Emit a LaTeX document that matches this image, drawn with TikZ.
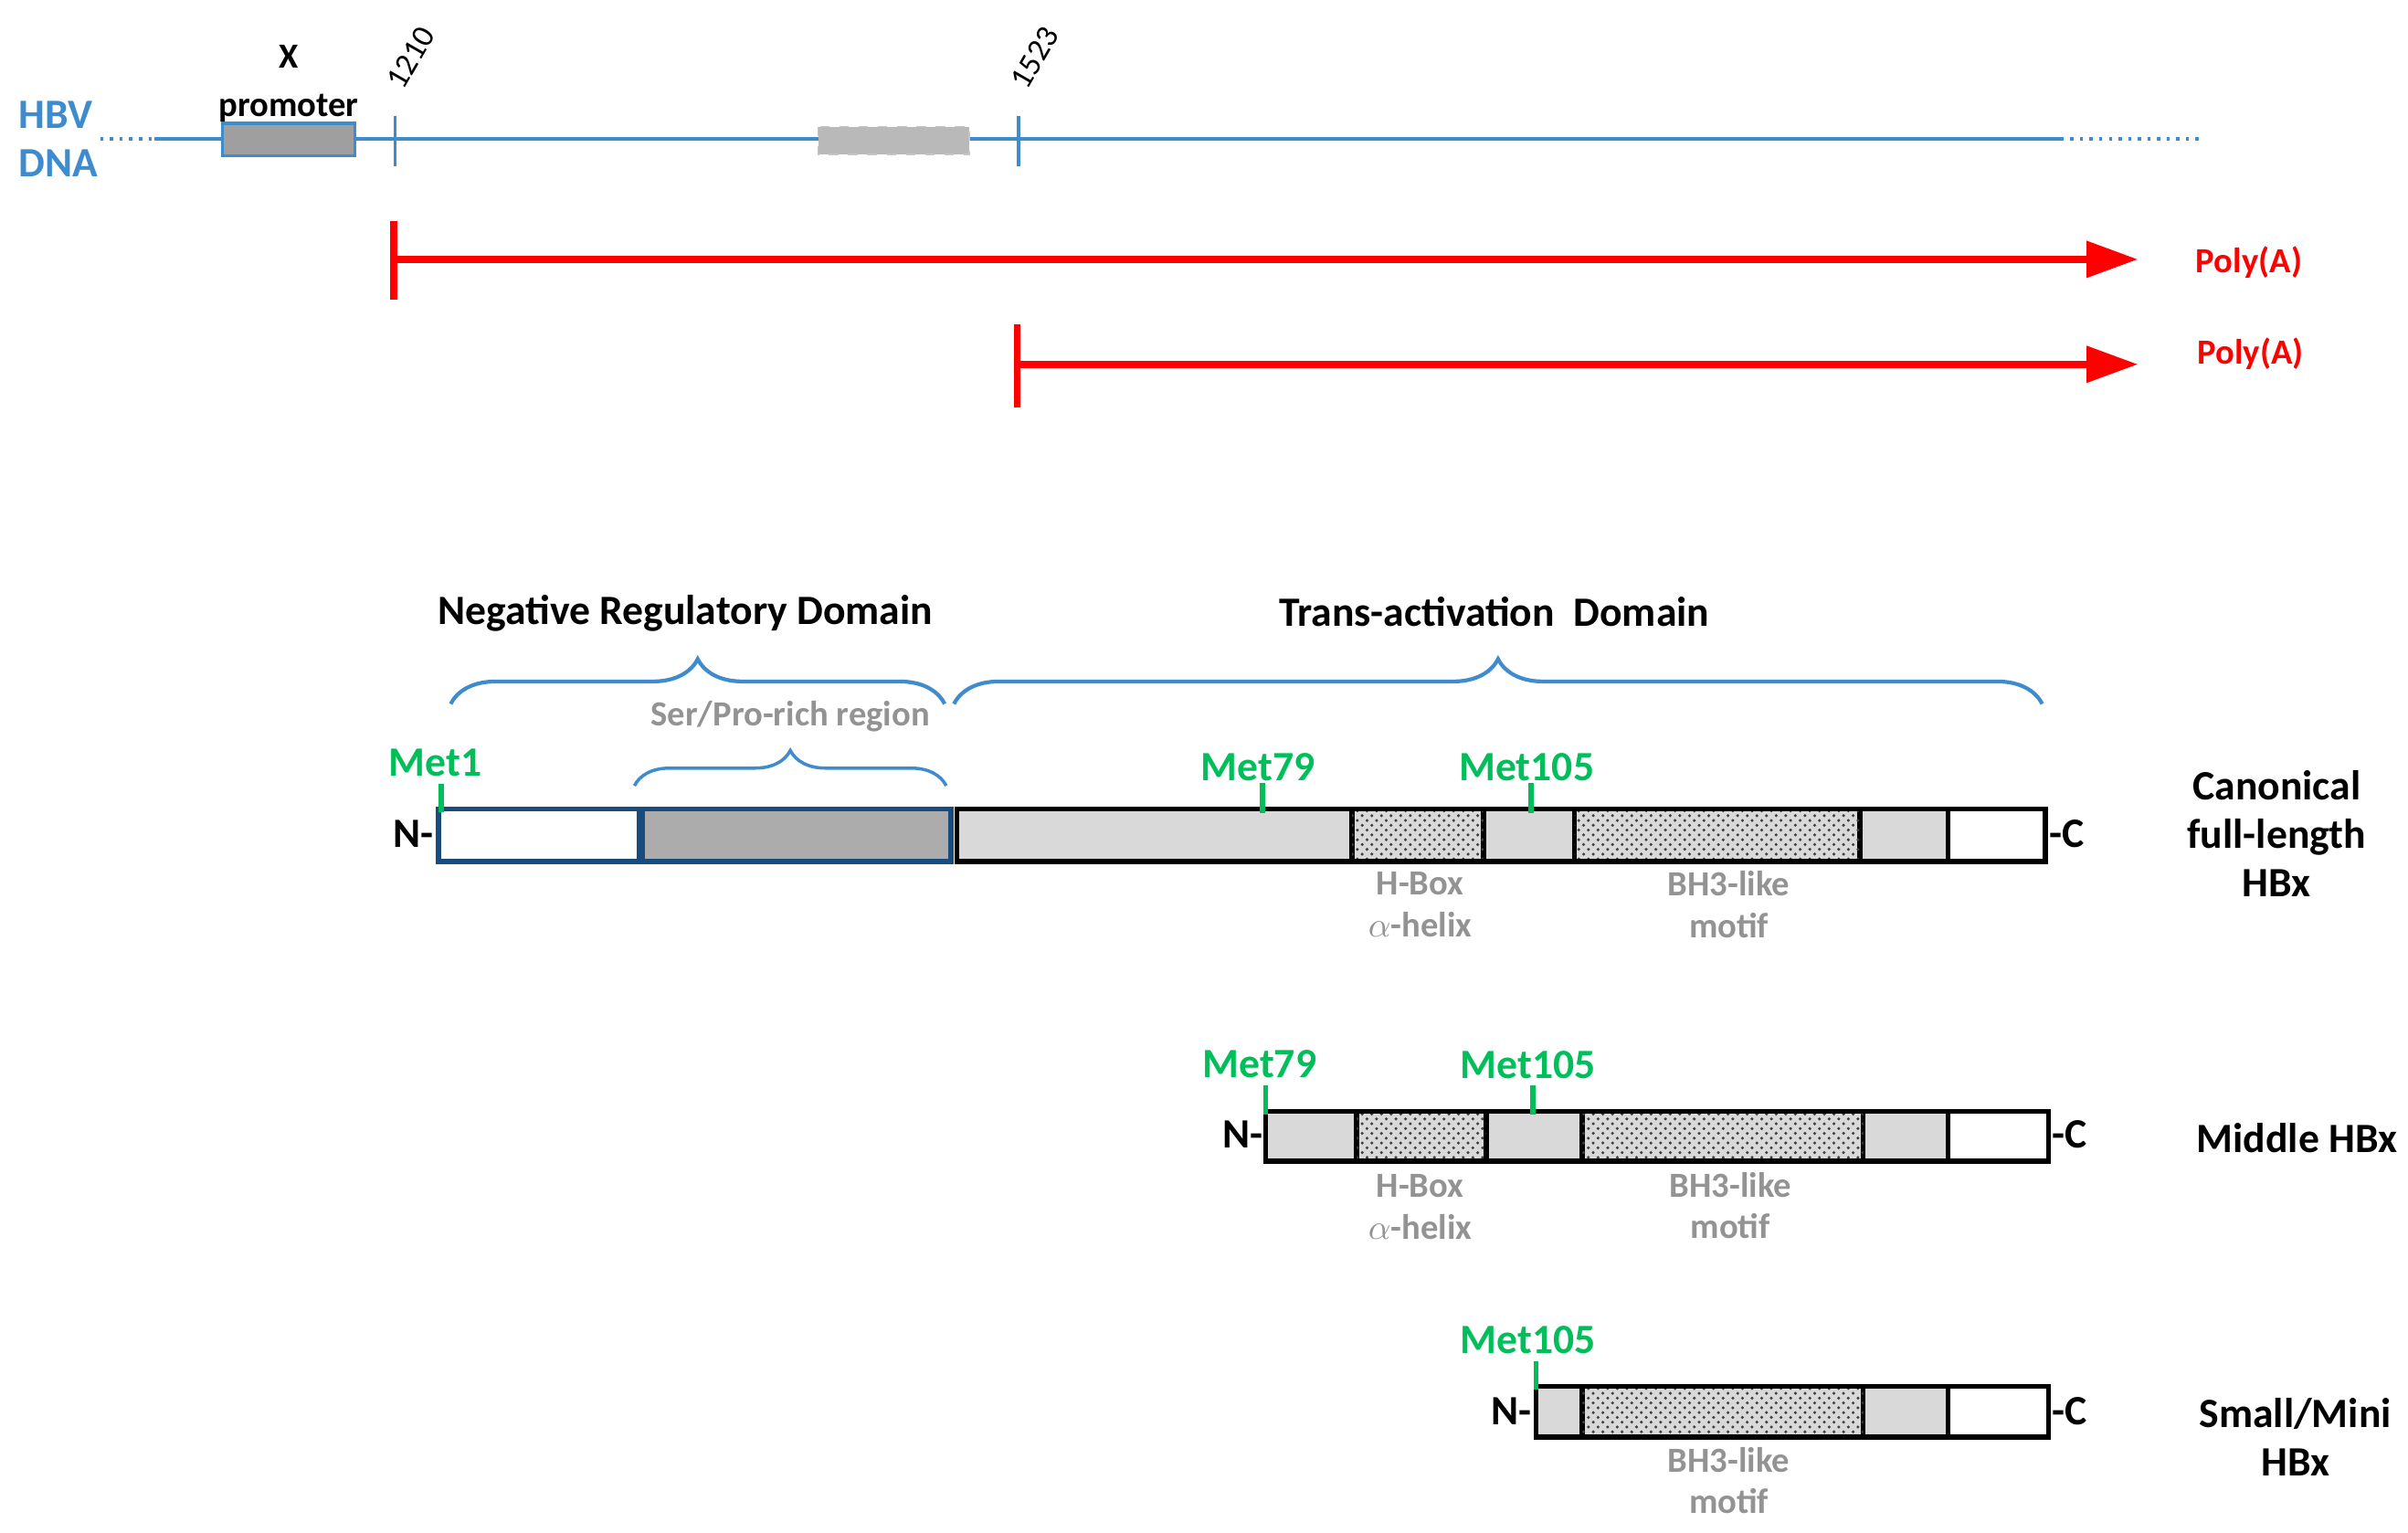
\documentclass[tikz,border=0pt]{standalone}
\usepackage{fontspec}
\setmainfont{Carlito}
\usetikzlibrary{patterns,decorations.pathreplacing,arrows.meta}
\definecolor{dnablue}{RGB}{62,140,205}
\definecolor{metgreen}{RGB}{0,190,90}
\definecolor{navy}{RGB}{25,75,125}
\begin{document}
\begin{tikzpicture}[x=0.0169cm,y=-0.0169cm]
  \tikzstyle{lbl}=[font=\fontsize{13}{15}\selectfont\bfseries]
  \tikzstyle{met}=[lbl,text=metgreen]
  \tikzstyle{sub}=[font=\fontsize{11}{13}\selectfont\bfseries,text=gray!85,align=center]
  \tikzstyle{dna}=[draw=dnablue,line width=1pt]
  \tikzstyle{polya}=[red,line width=2.2pt]
  \tikzstyle{brace}=[dnablue,line width=1.2pt,decorate,decoration={brace,amplitude=14pt}]
  \tikzstyle{box}=[draw=black,line width=1.6pt]
  \tikzstyle{chk}=[fill=gray!30,postaction={pattern=crosshatch dots,pattern color=black!75}]
  \tikzstyle{tick}=[metgreen,line width=1.6pt]

  \useasboundingbox (0,0) rectangle (1560,993);

  % HBV DNA
  \node [lbl,text=dnablue,align=left,anchor=west] (hbv) at (5,90) {HBV\\DNA};
  \draw [dna,dotted] (65,90) -- (100,90);
  \draw [dna] (100,90) -- (1335,90);
  \draw [dna,dotted] (1335,90) -- (1425,90);
  \draw [draw=dnablue,fill=gray!75,line width=1pt] (144,80) rectangle (230,101);
  \draw [draw=gray!45,dashed,fill=gray!55] (530,82) rectangle (628,100);
  \node [lbl,align=center,font=\fontsize{11}{15}\selectfont\bfseries] (xprom) at (187,54) {X\\promoter};
  \draw [dna] (256,75) -- (256,108);
  \draw [dna] (660,75) -- (660,108);
  \node [rotate=60,anchor=west,font=\fontsize{10}{12}\selectfont] (p1210) at (252,62) {1210};
  \node [rotate=60,anchor=west,font=\fontsize{10}{12}\selectfont] (p1523) at (656,62) {1523};

  % transcripts
  \coordinate (s1) at (255,168);
  \coordinate (e1) at (1385,168);
  \coordinate (s2) at (659,236);
  \coordinate (e2) at (1385,236);
  \draw [polya,-{Triangle[length=16pt,width=11pt]}] (s1) -- (e1);
  \draw [polya] (255,143) -- (255,194);
  \draw [polya,-{Triangle[length=16pt,width=11pt]}] (s2) -- (e2);
  \draw [polya] (659,210) -- (659,264);
  \node [lbl,text=red,font=\fontsize{11}{13}\selectfont\bfseries] (pa1) at (1457,170) {Poly(A)};
  \node [lbl,text=red,font=\fontsize{11}{13}\selectfont\bfseries] (pa2) at (1458,229) {Poly(A)};

  % domains
  \node [lbl] (nrd) at (444,397) {Negative Regulatory Domain};
  \node [lbl] (tad) at (968,396) {Trans-activation\ \ Domain};
  \draw [brace] (292,456) -- (612,456);
  \draw [brace] (618,456) -- (1323,456);
  \node [sub] (spr) at (512,464) {Ser/Pro-rich region};
  \draw [brace,line width=1pt,decoration={amplitude=11pt}] (411,509) -- (613,509);

  % canonical HBx
  \draw [draw=navy,line width=1.6pt,fill=white] (284,524) rectangle (414,558);
  \draw [draw=navy,line width=1.6pt,fill=gray!65] (416,524) rectangle (616,558);
  \fill [gray!30] (620,524) rectangle (1262,558);
  \draw [box,chk] (876,524) rectangle (961,558);
  \draw [box,chk] (1020,524) rectangle (1205,558);
  \draw [box] (1262,524) -- (1262,558);
  \draw [box] (620,524) rectangle (1325,558);
  \draw [tick] (286,508) -- (286,526);
  \draw [tick] (818,507) -- (818,527);
  \draw [tick] (992,507) -- (992,527);
  \node [met] (met1) at (282,494) {Met1};
  \node [met] (met79a) at (815,497) {Met79};
  \node [met] (met105a) at (989,497) {Met105};
  \node [lbl] (n1) at (268,540) {N-};
  \node [lbl] (c1) at (1339,540) {-C};
  \node [sub] (hb1) at (920,586) {H-Box\\$\alpha$-helix};
  \node [sub] (bh1) at (1120,586) {BH3-like\\motif};
  \node [lbl,align=center] (can) at (1475,540) {Canonical\\full-length\\HBx};

  % middle HBx
  \fill [gray!30] (820,720) rectangle (1262,752);
  \draw [box,chk] (879,720) rectangle (963,752);
  \draw [box,chk] (1025,720) rectangle (1207,752);
  \draw [box] (1262,720) -- (1262,752);
  \draw [box] (820,720) rectangle (1327,752);
  \draw [tick] (820,703) -- (820,722);
  \draw [tick] (993,703) -- (993,722);
  \node [met] (met79b) at (816,689) {Met79};
  \node [met] (met105b) at (990,690) {Met105};
  \node [lbl] (n2) at (805,735) {N-};
  \node [lbl] (c2) at (1341,735) {-C};
  \node [sub] (hb2) at (920,782) {H-Box\\$\alpha$-helix};
  \node [sub] (bh2) at (1121,781) {BH3-like\\motif};
  \node [lbl] (mid) at (1488,737) {Middle HBx};

  % small HBx
  \fill [gray!30] (995,898) rectangle (1262,931);
  \draw [box,chk] (1025,898) rectangle (1207,931);
  \draw [box] (1262,898) -- (1262,931);
  \draw [box] (995,898) rectangle (1327,931);
  \draw [tick] (995,882) -- (995,900);
  \node [met] (met105c) at (990,868) {Met105};
  \node [lbl] (n3) at (979,914) {N-};
  \node [lbl] (c3) at (1341,914) {-C};
  \node [sub] (bh3) at (1120,959) {BH3-like\\motif};
  \node [lbl,align=center] (sml) at (1487,931) {Small/Mini\\HBx};
\end{tikzpicture}
\end{document}
